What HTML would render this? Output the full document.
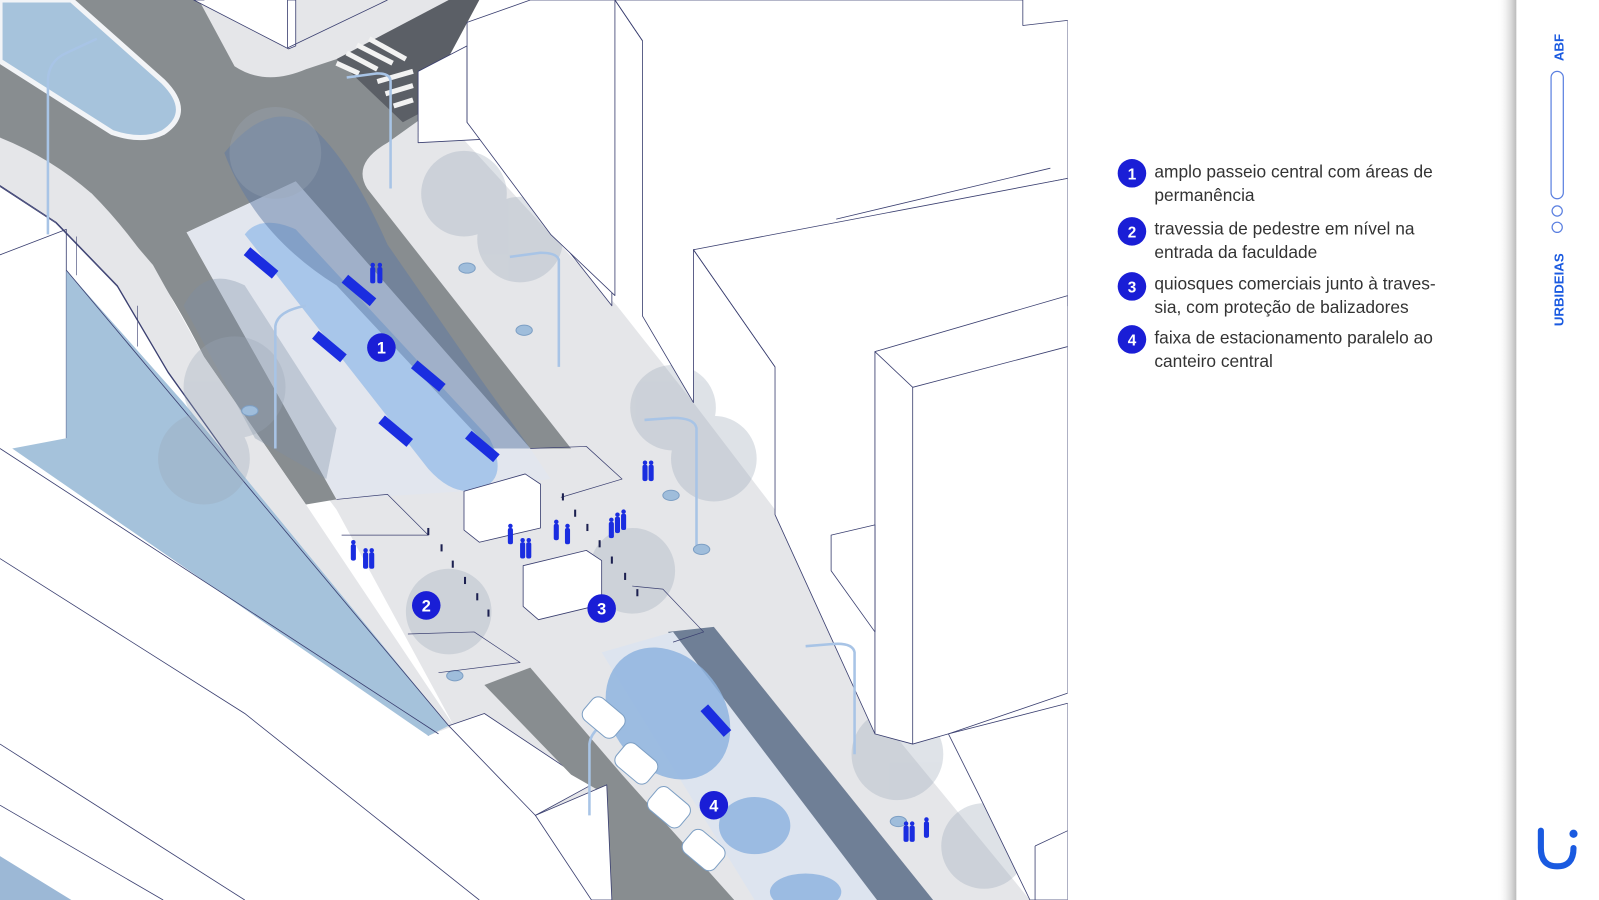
<!DOCTYPE html>
<html><head><meta charset="utf-8"><style>
html,body{margin:0;padding:0;background:#fff;}
svg{display:block;}
</style></head><body>
<svg width="1599" height="900" viewBox="0 0 1568 883" preserveAspectRatio="none" xmlns="http://www.w3.org/2000/svg" font-family="'Liberation Sans', sans-serif">
<defs>
<linearGradient id="sh" x1="0" x2="1" y1="0" y2="0">
<stop offset="0" stop-color="#fff" stop-opacity="0"/>
<stop offset="1" stop-color="#b9b9b9"/>
</linearGradient>
<clipPath id="cl"><rect x="0" y="0" width="1047" height="883"/></clipPath>
<g id="p"><circle cx="2.5" cy="2" r="2.2"/><rect x="0" y="4" width="5" height="16" rx="2"/></g>
</defs>
<rect width="1568" height="883" fill="#fff"/>
<g clip-path="url(#cl)" stroke-linejoin="round">
<polygon points="0,110 0,175 180,300 330,500 445,712 600,883 1010,883 860,700 760,500 680,395 605,300 540,230 430,110 440,0 0,0" fill="#e5e6e9"/>
<path d="M0,0 L440,0 L420,40 L300,70 Q265,80 240,70 L200,40 L190,0 Z" fill="#e5e6e9"/>
<path d="M0,0 L195,0 L230,65 Q260,85 300,68 L330,58 L405,20 L415,115 L380,140 Q345,160 360,185 L560,440 L520,440 L290,178 L183,228 L330,490 L300,495 L200,350 Q150,250 90,190 Q50,155 0,135 Z" fill="#888d90"/>
<polygon points="330,58 440,0 470,0 410,112 395,120" fill="#5b5f66"/>
<g stroke="#f2f2f2" stroke-width="5">
<line x1="330" y1="62" x2="352" y2="72"/><line x1="340" y1="52" x2="370" y2="68"/>
<line x1="350" y1="44" x2="385" y2="62"/><line x1="362" y1="38" x2="398" y2="58"/>
<line x1="370" y1="80" x2="405" y2="70"/><line x1="378" y1="92" x2="405" y2="84"/>
<line x1="386" y1="104" x2="405" y2="98"/>
</g>
<path d="M0,0 L70,0 L160,80 Q190,110 160,130 Q140,140 110,130 L0,60 Z" fill="#a6c3dc" stroke="#f2f4f7" stroke-width="5"/>
<polygon points="190,0 290,0 290,45 283,48 190,0" fill="#fff" stroke="#3a3f70" stroke-width="0.8"/>
<polygon points="200,0 282,0 282,47" fill="#fff"/>
<line x1="282" y1="0" x2="282" y2="47" stroke="#3a3f70" stroke-width="0.8"/>
<line x1="282" y1="47" x2="380" y2="0" stroke="#3a3f70" stroke-width="0.8"/>
<!-- left sidewalk strip & white building -->
<polygon points="0,135 90,190 150,260 200,350 300,495 445,712 420,722 165,365 115,280 55,218 0,182" fill="#e5e6e9"/>
<polyline points="0,182 55,218 115,280 165,365 420,722" fill="none" stroke="#3a3f70" stroke-width="0.8"/>
<polygon points="0,183 55,219 115,281 165,366 420,722 0,722" fill="#fff"/>
<polyline points="0,183 55,219 115,281 165,366 420,722" fill="none" stroke="#3a3f70" stroke-width="0.8"/>
<polyline points="0,250 65,225 65,430" fill="none" stroke="#3a3f70" stroke-width="0.8"/>
<line x1="75" y1="232" x2="75" y2="270" stroke="#3a3f70" stroke-width="0.6"/>
<line x1="135" y1="300" x2="135" y2="340" stroke="#3a3f70" stroke-width="0.6"/>
<polygon points="65,265 180,395 440,712 420,722 12,440 65,430" fill="#a5c2db"/>
<line x1="65" y1="265" x2="440" y2="712" stroke="#3a3f70" stroke-width="0.8"/>
<polygon points="0,440 420,722 600,883 0,883" fill="#fff"/>
<polyline points="0,440 430,720" fill="none" stroke="#3a3f70" stroke-width="0.8"/>
<polyline points="0,548 240,700 470,883" fill="none" stroke="#3a3f70" stroke-width="0.8"/>
<polyline points="0,730 240,883" fill="none" stroke="#3a3f70" stroke-width="0.8"/>
<polyline points="0,790 160,883" fill="none" stroke="#3a3f70" stroke-width="0.8"/>
<polygon points="0,840 70,883 0,883" fill="#9cb8d6"/>
<polygon points="440,712 475,700 580,770 525,800" fill="#fff" stroke="#3a3f70" stroke-width="0.8"/>
<polygon points="475,672 520,655 610,760 720,883 600,883 595,780 560,760" fill="#888d90"/>
<polygon points="525,800 595,770 600,883 580,883" fill="#fff" stroke="#3a3f70" stroke-width="0.8"/>
<polygon points="655,620 700,615 915,883 855,883" fill="#6f7f96"/>
<polygon points="183,228 290,178 520,440 540,470 455,482 330,490" fill="#e2e6ee"/>
<path d="M240,230 Q255,210 290,225 L480,430 Q500,470 470,480 Q445,488 420,460 Z" fill="#9dbfe9" opacity="0.85"/>
<path d="M220,150 Q260,100 300,120 Q340,150 380,240 L470,370 L520,440 L480,440 L330,280 Q250,230 220,150 Z" fill="#5e7aa3" opacity="0.5"/>
<path d="M180,300 Q200,260 240,280 L330,420 L320,470 L250,430 Z" fill="#7d8fa6" opacity="0.35"/>
<polygon points="590,640 660,620 860,883 740,883" fill="#dde4ef"/>
<ellipse cx="655" cy="700" rx="55" ry="70" transform="rotate(-38 655 700)" fill="#8fb4df" opacity="0.85"/>
<ellipse cx="740" cy="810" rx="35" ry="28" fill="#8fb4df" opacity="0.85"/>
<ellipse cx="790" cy="875" rx="35" ry="18" fill="#8fb4df" opacity="0.85"/>
<g fill="#9aa8b8" opacity="0.32">
<circle cx="455" cy="190" r="42"/><circle cx="510" cy="235" r="42"/><circle cx="660" cy="400" r="42"/>
<circle cx="700" cy="450" r="42"/><circle cx="230" cy="380" r="50"/><circle cx="200" cy="450" r="45"/>
<circle cx="440" cy="600" r="42"/><circle cx="620" cy="560" r="42"/><circle cx="880" cy="740" r="45"/>
<circle cx="965" cy="830" r="42"/><circle cx="270" cy="150" r="45"/>
</g>
<g fill="#fff" stroke="#3a3f70" stroke-width="0.8">
<polygon points="410,70 458,45 458,120 600,300 600,130 410,140"/>
<polygon points="458,22 520,0 603,0 603,290 540,230 458,120"/>
<polygon points="603,0 1003,0 1003,25 1047,20 1047,175 700,245 680,245 680,395 630,310 630,40"/>
<polygon points="680,245 1047,175 1047,300 858,345 858,720 760,505 760,360"/>
<polygon points="858,345 1047,290 1047,680 930,720 895,730 858,720"/>
<polygon points="815,525 858,515 858,620 815,560"/>
<polygon points="930,720 1047,690 1047,883 1010,883 960,780"/>
</g>
<g stroke="#3a3f70" stroke-width="0.8" fill="none">
<line x1="603" y1="0" x2="630" y2="40"/><line x1="680" y1="245" x2="760" y2="360"/>
<line x1="858" y1="345" x2="895" y2="380"/><line x1="895" y1="380" x2="895" y2="730"/>
<line x1="895" y1="380" x2="1047" y2="340"/>
<line x1="820" y1="215" x2="1030" y2="165"/>
<line x1="1015" y1="830" x2="1047" y2="815"/><line x1="1015" y1="830" x2="1015" y2="883"/>
</g>
<g stroke="#a8c4e6" stroke-width="2.5" fill="none">
<path d="M47,230 L47,80 Q47,60 65,52 L95,38"/>
<path d="M383,185 L383,80 Q383,72 370,72 L340,76"/>
<path d="M270,440 L270,320 Q272,305 300,300"/>
<path d="M548,360 L548,255 Q546,248 530,248 L500,252"/>
<path d="M683,535 L683,420 Q681,410 660,410 L632,412"/>
<path d="M838,740 L838,640 Q836,630 815,632 L790,634"/>
<path d="M578,800 L578,730 Q580,712 610,702"/>
</g>
<g fill="#9fbddb" stroke="#7d9fc4" stroke-width="1">
<ellipse cx="458" cy="263" rx="8" ry="5"/><ellipse cx="514" cy="324" rx="8" ry="5"/><ellipse cx="245" cy="403" rx="8" ry="5"/>
<ellipse cx="658" cy="486" rx="8" ry="5"/><ellipse cx="688" cy="539" rx="8" ry="5"/><ellipse cx="446" cy="663" rx="8" ry="5"/><ellipse cx="881" cy="806" rx="8" ry="5"/>
</g>
<g stroke="#3a3f70" stroke-width="0.7" fill="none">
<polyline points="330,490 380,485 420,525 335,525"/><polyline points="520,440 575,438 610,470 550,488"/>
<polyline points="400,622 465,620 510,650 430,660"/><polyline points="620,575 650,578 690,620 660,630"/>
</g>
<g fill="#fff" stroke="#3a3f70" stroke-width="0.8">
<polygon points="455,482 515,465 530,475 530,518 470,532 455,520"/>
<polygon points="513,555 575,540 590,550 590,593 528,608 513,595"/>
</g>
<g fill="#fff" stroke="#7d9fc4" stroke-width="1">
<rect x="572" y="690" width="40" height="28" rx="8" transform="rotate(40 592 704)"/>
<rect x="604" y="735" width="40" height="28" rx="8" transform="rotate(40 624 749)"/>
<rect x="636" y="778" width="40" height="28" rx="8" transform="rotate(40 656 792)"/>
<rect x="670" y="820" width="40" height="28" rx="8" transform="rotate(40 690 834)"/>
</g>
<g fill="#1a2de0">
<rect x="238" y="253" width="36" height="10" transform="rotate(40 256 258)"/>
<rect x="334" y="280" width="36" height="10" transform="rotate(40 352 285)"/>
<rect x="305" y="335" width="36" height="10" transform="rotate(40 323 340)"/>
<rect x="402" y="364" width="36" height="10" transform="rotate(40 420 369)"/>
<rect x="370" y="418" width="36" height="10" transform="rotate(40 388 423)"/>
<rect x="455" y="433" width="36" height="10" transform="rotate(40 473 438)"/>
<rect x="685" y="702" width="34" height="10" transform="rotate(48 702 707)"/>
</g>
<g fill="#1a2de0">
<use href="#p" x="363" y="258"/><use href="#p" x="370" y="258"/>
<use href="#p" x="344" y="530"/><use href="#p" x="356" y="538"/><use href="#p" x="362" y="538"/>
<use href="#p" x="498" y="514"/><use href="#p" x="510" y="528"/><use href="#p" x="516" y="528"/>
<use href="#p" x="543" y="510"/><use href="#p" x="554" y="514"/>
<use href="#p" x="603" y="503"/><use href="#p" x="609" y="500"/><use href="#p" x="597" y="508"/>
<use href="#p" x="630" y="452"/><use href="#p" x="636" y="452"/>
<use href="#p" x="886" y="806"/><use href="#p" x="892" y="806"/><use href="#p" x="906" y="802"/>
</g>
<g fill="#1c2050">
<rect x="419" y="518" width="2" height="7"/><rect x="432" y="534" width="2" height="7"/><rect x="443" y="550" width="2" height="7"/>
<rect x="455" y="566" width="2" height="7"/><rect x="467" y="582" width="2" height="7"/><rect x="478" y="598" width="2" height="7"/>
<rect x="551" y="484" width="2" height="7"/><rect x="563" y="500" width="2" height="7"/><rect x="575" y="514" width="2" height="7"/>
<rect x="587" y="530" width="2" height="7"/><rect x="599" y="546" width="2" height="7"/><rect x="612" y="562" width="2" height="7"/><rect x="624" y="578" width="2" height="7"/>
</g>
<g font-weight="bold" font-size="16" text-anchor="middle" fill="#fff">
<circle cx="374" cy="341" r="14" fill="#1a1ed6"/><text x="374" y="347">1</text>
<circle cx="418" cy="594" r="14" fill="#1a1ed6"/><text x="418" y="600">2</text>
<circle cx="590" cy="597" r="14" fill="#1a1ed6"/><text x="590" y="603">3</text>
<circle cx="700" cy="790" r="14" fill="#1a1ed6"/><text x="700" y="796">4</text>
</g>
</g>
<g font-size="17" fill="#333">
<circle cx="1110" cy="170" r="14" fill="#1a1ed6"/><text x="1110" y="176" fill="#fff" font-weight="bold" font-size="15" text-anchor="middle">1</text>
<text x="1132" y="174">amplo passeio central com áreas de</text><text x="1132" y="197">permanência</text>
<circle cx="1110" cy="227" r="14" fill="#1a1ed6"/><text x="1110" y="233" fill="#fff" font-weight="bold" font-size="15" text-anchor="middle">2</text>
<text x="1132" y="230">travessia de pedestre em nível na</text><text x="1132" y="253">entrada da faculdade</text>
<circle cx="1110" cy="281" r="14" fill="#1a1ed6"/><text x="1110" y="287" fill="#fff" font-weight="bold" font-size="15" text-anchor="middle">3</text>
<text x="1132" y="284">quiosques comerciais junto à traves-</text><text x="1132" y="307">sia, com proteção de balizadores</text>
<circle cx="1110" cy="333" r="14" fill="#1a1ed6"/><text x="1110" y="339" fill="#fff" font-weight="bold" font-size="15" text-anchor="middle">4</text>
<text x="1132" y="337">faixa de estacionamento paralelo ao</text><text x="1132" y="360">canteiro central</text>
</g>
<rect x="1468" y="0" width="19" height="883" fill="url(#sh)"/>
<rect x="1487" y="0" width="81" height="883" fill="#fff"/>
<text transform="translate(1533,60) rotate(-90)" font-size="13" font-weight="bold" fill="#1a5ae0">ABF</text>
<rect x="1521" y="70" width="12" height="125" rx="6" fill="none" stroke="#5a7fe0" stroke-width="1.2"/>
<circle cx="1527" cy="207" r="5" fill="none" stroke="#5a7fe0" stroke-width="1.2"/>
<circle cx="1527" cy="223" r="5" fill="none" stroke="#5a7fe0" stroke-width="1.2"/>
<text transform="translate(1533,320) rotate(-90)" font-size="13" font-weight="bold" fill="#1a5ae0">URBIDEIAS</text>
<path d="M1511,815 L1511,832 Q1511,850 1527,850 Q1543,850 1543,832" fill="none" stroke="#1a5ae0" stroke-width="6" stroke-linecap="round"/>
<circle cx="1543" cy="818" r="4" fill="#1a5ae0"/>
</svg>
</body></html>
